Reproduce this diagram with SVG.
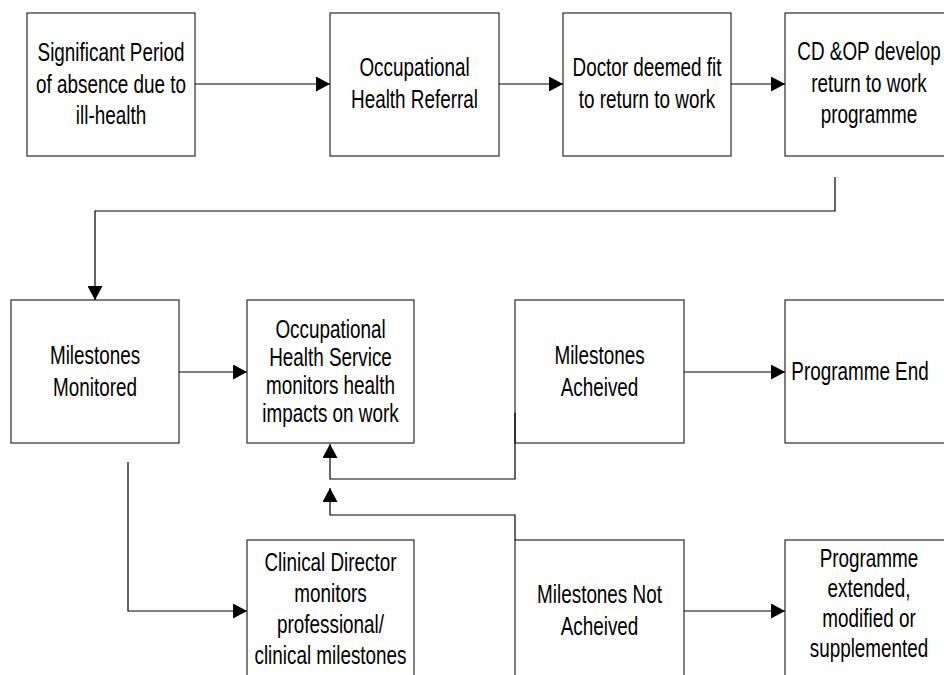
<svg xmlns="http://www.w3.org/2000/svg" width="944" height="675" viewBox="0 0 944 675">
<style>
.box{fill:#fff;stroke:#2a2a2a;stroke-width:1.2}
.lbl{font-family:"Liberation Sans",Arial,sans-serif;font-size:25px;fill:#000;text-anchor:middle}
.con{fill:none;stroke:#000;stroke-width:1.2}
</style>
<defs>
<marker id="ah" markerUnits="userSpaceOnUse" viewBox="0 0 14 15" refX="14" refY="7.5" markerWidth="14" markerHeight="15" orient="auto">
<path d="M0,0 L14,7.5 L0,15 z" fill="#000"/>
</marker>
</defs>
<rect width="944" height="675" fill="#fff"/>
<g id="n1"><rect class="box" x="27" y="13" width="168" height="143"/>
<text class="lbl" transform="matrix(0.755 0 0 1 111 0)"><tspan x="0" y="61.5">Significant Period</tspan><tspan x="0" y="93">of absence due to</tspan><tspan x="0" y="124">ill-health</tspan></text></g>
<g id="n2"><rect class="box" x="330" y="13" width="169" height="143"/>
<text class="lbl" transform="matrix(0.755 0 0 1 414.5 0)"><tspan x="0" y="76.5">Occupational</tspan><tspan x="0" y="108">Health Referral</tspan></text></g>
<g id="n3"><rect class="box" x="563" y="13" width="168" height="143"/>
<text class="lbl" transform="matrix(0.755 0 0 1 647 0)"><tspan x="0" y="76.5">Doctor deemed fit</tspan><tspan x="0" y="108">to return to work</tspan></text></g>
<g id="n4"><rect class="box" x="785" y="13" width="168" height="143"/>
<text class="lbl" transform="matrix(0.755 0 0 1 869 0)"><tspan x="0" y="60.5">CD &amp;OP develop</tspan><tspan x="0" y="92">return to work</tspan><tspan x="0" y="123">programme</tspan></text></g>
<g id="n5"><rect class="box" x="11" y="300" width="168" height="143"/>
<text class="lbl" transform="matrix(0.755 0 0 1 95 0)"><tspan x="0" y="364.5">Milestones</tspan><tspan x="0" y="396">Monitored</tspan></text></g>
<g id="n6"><rect class="box" x="247" y="300" width="167" height="143"/>
<text class="lbl" transform="matrix(0.755 0 0 1 330.5 0)"><tspan x="0" y="338">Occupational</tspan><tspan x="0" y="366.5">Health Service</tspan><tspan x="0" y="394.5">monitors health</tspan><tspan x="0" y="422.5">impacts on work</tspan></text></g>
<g id="n7"><rect class="box" x="515" y="300" width="169" height="143"/>
<text class="lbl" transform="matrix(0.755 0 0 1 599.5 0)"><tspan x="0" y="364.5">Milestones</tspan><tspan x="0" y="396">Acheived</tspan></text></g>
<g id="n8"><rect class="box" x="785" y="300" width="168" height="143"/>
<text class="lbl" transform="matrix(0.755 0 0 1 860 0)"><tspan x="0" y="380">Programme End</tspan></text></g>
<g id="n9"><rect class="box" x="247" y="540" width="167" height="150"/>
<text class="lbl" transform="matrix(0.755 0 0 1 330.5 0)"><tspan x="0" y="571">Clinical Director</tspan><tspan x="0" y="602">monitors</tspan><tspan x="0" y="633">professional/</tspan><tspan x="0" y="664">clinical milestones</tspan></text></g>
<g id="n10"><rect class="box" x="515" y="540" width="169" height="150"/>
<text class="lbl" transform="matrix(0.755 0 0 1 599.5 0)"><tspan x="0" y="603.5">Milestones Not</tspan><tspan x="0" y="635">Acheived</tspan></text></g>
<g id="n11"><rect class="box" x="785" y="540" width="168" height="150"/>
<text class="lbl" transform="matrix(0.755 0 0 1 869 0)"><tspan x="0" y="567">Programme</tspan><tspan x="0" y="597">extended,</tspan><tspan x="0" y="627">modified or</tspan><tspan x="0" y="657">supplemented</tspan></text></g>
<g id="connectors">
<path class="con" d="M195,84 H330" marker-end="url(#ah)"/>
<path class="con" d="M499,84 H563" marker-end="url(#ah)"/>
<path class="con" d="M731,84 H785" marker-end="url(#ah)"/>
<path class="con" d="M835,177 V211 H95 V300" marker-end="url(#ah)"/>
<path class="con" d="M179,372 H247" marker-end="url(#ah)"/>
<path class="con" d="M684,372 H785" marker-end="url(#ah)"/>
<path class="con" d="M515,413 V479 H330 V444" marker-end="url(#ah)"/>
<path class="con" d="M515,540 V515 H330 V488" marker-end="url(#ah)"/>
<path class="con" d="M128,462 V611 H247" marker-end="url(#ah)"/>
<path class="con" d="M684,611 H785" marker-end="url(#ah)"/>
</g>
</svg>
